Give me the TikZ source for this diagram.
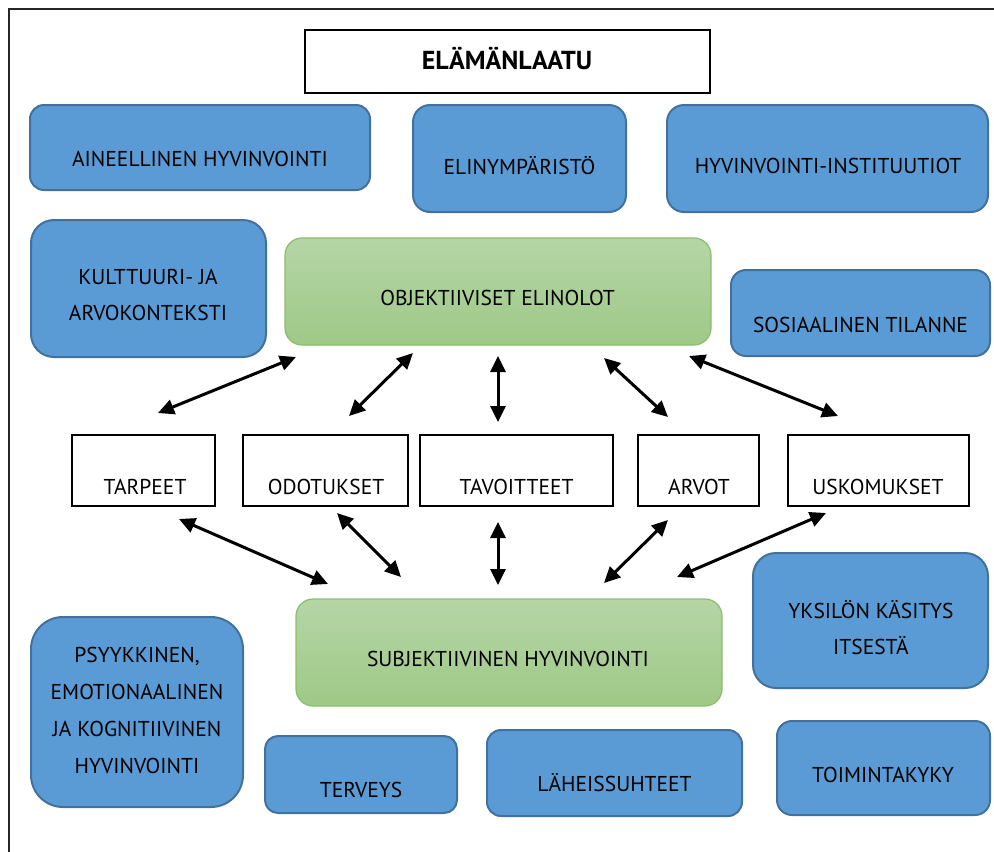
\documentclass[tikz,border=0pt]{standalone}
\usepackage{fontspec}
\setmainfont{PT Sans}
\usetikzlibrary{arrows.meta}
\definecolor{boxblue}{HTML}{5B9BD5}
\definecolor{boxblueline}{HTML}{41719C}
\definecolor{greentop}{HTML}{B5D5A6}
\definecolor{greenbot}{HTML}{9FC987}
\definecolor{greenline}{HTML}{8BBE6A}
\tikzset{
	bluebox/.style={draw=boxblueline, fill=boxblue, line width=2pt},
	greenbox/.style={draw=greenline, top color=greentop, bottom color=greenbot, line width=1.2pt, rounded corners=17pt},
	whitebox/.style={draw=black, fill=white, line width=2pt},
	lbl/.style={font=\fontsize{21.5}{36}\selectfont, align=center, inner sep=0pt},
	twoway/.style={{Triangle[length=16pt,width=15pt]}-{Triangle[length=16pt,width=15pt]}, line width=3pt},
}

\begin{document}
\begin{tikzpicture}[x=1pt,y=-1pt]
				%%%%% FRAME %%%%%
				\useasboundingbox (0,0) rectangle (994,852);
				\draw[line width=2pt, black!85] (9,852) -- (9,9) -- (994,9);

				\def\rowy{470.5}
				\def\rowh{71pt}

				%%%%% TOP %%%%%
				\node[whitebox, line width=2.5pt, minimum width=405pt, minimum height=63pt] (laatu) at (507.5,61.5) {};
				\node[lbl, font=\fontsize{26}{30}\selectfont\bfseries] (laatuT) at (507,59) {ELÄMÄNLAATU};

				\node[bluebox, rounded corners=14pt, minimum width=340pt, minimum height=85pt] (aine) at (200,147.5) {};
				\node[lbl] (aineT) at (200,159) {AINEELLINEN HYVINVOINTI};
				\node[bluebox, rounded corners=17pt, minimum width=213pt, minimum height=107pt] (elin) at (519.5,158.5) {};
				\node[lbl] (elinT) at (519.5,166) {ELINYMPÄRISTÖ};
				\node[bluebox, rounded corners=17pt, minimum width=321pt, minimum height=107pt] (inst) at (827.5,158.5) {};
				\node[lbl] (instT) at (828,166) {HYVINVOINTI-INSTITUUTIOT};

				\node[bluebox, rounded corners=23pt, minimum width=235pt, minimum height=137pt] (kult) at (148.5,288.5) {};
				\node[lbl] (kultT) at (148,295) {KULTTUURI- JA\\ARVOKONTEKSTI};
				\node[greenbox, minimum width=426pt, minimum height=107pt] (obj) at (498,291.5) {};
				\node[lbl] (objT) at (497.5,298) {OBJEKTIIVISET ELINOLOT};
				\node[bluebox, rounded corners=15pt, minimum width=259pt, minimum height=86pt] (sos) at (860.5,313) {};
				\node[lbl] (sosT) at (860.5,325) {SOSIAALINEN TILANNE};

				%%%%% MIDDLE ROW %%%%%
				\node[whitebox, minimum width=143pt, minimum height=\rowh] (tarp) at (143.5,\rowy) {};
				\node[lbl] (tarpT) at (145,487) {TARPEET};
				\node[whitebox, minimum width=165pt, minimum height=\rowh] (odot) at (325.5,\rowy) {};
				\node[lbl] (odotT) at (326,487) {ODOTUKSET};
				\node[whitebox, minimum width=193pt, minimum height=\rowh] (tavo) at (516.5,\rowy) {};
				\node[lbl] (tavoT) at (516.5,487) {TAVOITTEET};
				\node[whitebox, minimum width=121pt, minimum height=\rowh] (arvo) at (698.5,\rowy) {};
				\node[lbl] (arvoT) at (699,487) {ARVOT};
				\node[whitebox, minimum width=181pt, minimum height=\rowh] (usko) at (878.5,\rowy) {};
				\node[lbl] (uskoT) at (878,487) {USKOMUKSET};

				%%%%% BOTTOM %%%%%
				\node[greenbox, minimum width=426pt, minimum height=107pt] (subj) at (509,652.5) {};
				\node[lbl] (subjT) at (508,659) {SUBJEKTIIVINEN HYVINVOINTI};
				\node[bluebox, rounded corners=23pt, minimum width=235pt, minimum height=135pt] (yksi) at (870.5,620.5) {};
				\node[lbl] (yksiT) at (871,628) {YKSILÖN KÄSITYS\\ITSESTÄ};
				\node[bluebox, rounded corners=32pt, minimum width=212pt, minimum height=190pt] (psyk) at (137,712) {};
				\node[lbl, font=\fontsize{21.5}{37}\selectfont] (psykT) at (137,710) {PSYYKKINEN,\\EMOTIONAALINEN\\JA KOGNITIIVINEN\\HYVINVOINTI};
				\node[bluebox, rounded corners=13pt, minimum width=192pt, minimum height=77pt] (terv) at (361,774.5) {};
				\node[lbl] (tervT) at (361,790) {TERVEYS};
				\node[bluebox, rounded corners=14pt, minimum width=255pt, minimum height=86pt] (lahe) at (614.5,773) {};
				\node[lbl] (laheT) at (614.5,783) {LÄHEISSUHTEET};
				\node[bluebox, rounded corners=15pt, minimum width=213pt, minimum height=94pt] (toim) at (883.5,768) {};
				\node[lbl] (toimT) at (883,775) {TOIMINTAKYKY};

				%%%%% ARROWS %%%%%
				\coordinate (objA) at (296,357);
				\coordinate (objB) at (413,353);
				\coordinate (objC) at (498,356);
				\coordinate (objD) at (604,358);
				\coordinate (objE) at (689,356);
				\coordinate (tarpUp) at (158,413);
				\coordinate (odotUp) at (349,416);
				\coordinate (tavoUp) at (498,422);
				\coordinate (arvoUp) at (668,417);
				\coordinate (uskoUp) at (838,416);
				\coordinate (tarpDn) at (179,519);
				\coordinate (odotDn) at (337,513);
				\coordinate (tavoDn) at (498,522);
				\coordinate (arvoDn) at (668,520);
				\coordinate (uskoDn) at (826,513);
				\coordinate (subjA) at (328,584);
				\coordinate (subjB) at (401,577);
				\coordinate (subjC) at (498,585);
				\coordinate (subjD) at (604,583);
				\coordinate (subjE) at (677,577);

				\foreach \a/\b in {objA/tarpUp, objB/odotUp, objC/tavoUp, objD/arvoUp, objE/uskoUp,
					tarpDn/subjA, odotDn/subjB, tavoDn/subjC, arvoDn/subjD, uskoDn/subjE}
					\draw[twoway] (\a) -- (\b);
				%%%%% END %%%%%
\end{tikzpicture}
\end{document}
